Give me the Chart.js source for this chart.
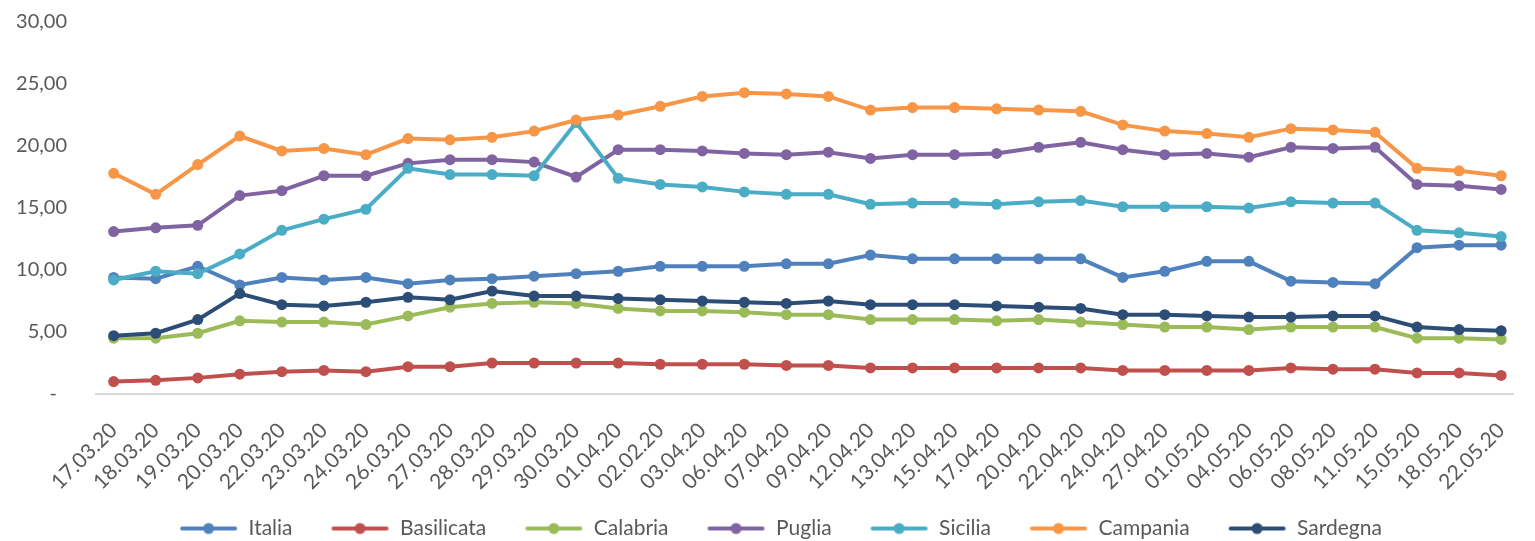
<!DOCTYPE html>
<html>
<head>
<meta charset="utf-8">
<script src="https://cdn.jsdelivr.net/npm/chart.js@4/dist/chart.umd.min.js"></script>
<style>
  html, body { margin: 0; padding: 0; background: #fff; }
  #wrap { width: 1535px; height: 541px; }
</style>
</head>
<body>
<div id="wrap"><canvas id="chart"></canvas></div>
<script>
var dates = ["17.03.20", "18.03.20", "19.03.20", "20.03.20", "22.03.20", "23.03.20", "24.03.20", "26.03.20",
             "27.03.20", "28.03.20", "29.03.20", "30.03.20", "01.04.20", "02.02.20", "03.04.20", "06.04.20",
             "07.04.20", "09.04.20", "12.04.20", "13.04.20", "15.04.20", "17.04.20", "20.04.20", "22.04.20",
             "24.04.20", "27.04.20", "01.05.20", "04.05.20", "06.05.20", "08.05.20", "11.05.20", "15.05.20",
             "18.05.20", "22.05.20"];

var italia     = [9.4, 9.3, 10.3, 8.8, 9.4, 9.2, 9.4, 8.9, 9.2, 9.3, 9.5, 9.7, 9.9, 10.3, 10.3, 10.3, 10.5,
                  10.5, 11.2, 10.9, 10.9, 10.9, 10.9, 10.9, 9.4, 9.9, 10.7, 10.7, 9.1, 9.0, 8.9, 11.8, 12.0, 12.0];
var basilicata = [1.0, 1.1, 1.3, 1.6, 1.8, 1.9, 1.8, 2.2, 2.2, 2.5, 2.5, 2.5, 2.5, 2.4, 2.4, 2.4, 2.3,
                  2.3, 2.1, 2.1, 2.1, 2.1, 2.1, 2.1, 1.9, 1.9, 1.9, 1.9, 2.1, 2.0, 2.0, 1.7, 1.7, 1.5];
var calabria   = [4.5, 4.5, 4.9, 5.9, 5.8, 5.8, 5.6, 6.3, 7.0, 7.3, 7.4, 7.3, 6.9, 6.7, 6.7, 6.6, 6.4,
                  6.4, 6.0, 6.0, 6.0, 5.9, 6.0, 5.8, 5.6, 5.4, 5.4, 5.2, 5.4, 5.4, 5.4, 4.5, 4.5, 4.4];
var puglia     = [13.1, 13.4, 13.6, 16.0, 16.4, 17.6, 17.6, 18.6, 18.9, 18.9, 18.7, 17.5, 19.7, 19.7, 19.6, 19.4, 19.3,
                  19.5, 19.0, 19.3, 19.3, 19.4, 19.9, 20.3, 19.7, 19.3, 19.4, 19.1, 19.9, 19.8, 19.9, 16.9, 16.8, 16.5];
var sicilia    = [9.2, 9.9, 9.7, 11.3, 13.2, 14.1, 14.9, 18.2, 17.7, 17.7, 17.6, 21.9, 17.4, 16.9, 16.7, 16.3, 16.1,
                  16.1, 15.3, 15.4, 15.4, 15.3, 15.5, 15.6, 15.1, 15.1, 15.1, 15.0, 15.5, 15.4, 15.4, 13.2, 13.0, 12.7];
var campania   = [17.8, 16.1, 18.5, 20.8, 19.6, 19.8, 19.3, 20.6, 20.5, 20.7, 21.2, 22.1, 22.5, 23.2, 24.0, 24.3, 24.2,
                  24.0, 22.9, 23.1, 23.1, 23.0, 22.9, 22.8, 21.7, 21.2, 21.0, 20.7, 21.4, 21.3, 21.1, 18.2, 18.0, 17.6];
var sardegna   = [4.7, 4.9, 6.0, 8.1, 7.2, 7.1, 7.4, 7.8, 7.6, 8.3, 7.9, 7.9, 7.7, 7.6, 7.5, 7.4, 7.3,
                  7.5, 7.2, 7.2, 7.2, 7.1, 7.0, 6.9, 6.4, 6.4, 6.3, 6.2, 6.2, 6.3, 6.3, 5.4, 5.2, 5.1];

var seriesNames  = ["Italia", "Basilicata", "Calabria", "Puglia", "Sicilia", "Campania", "Sardegna"];
var seriesValues = [italia, basilicata, calabria, puglia, sicilia, campania, sardegna];
var colors = ["#4f81bd", "#c0504d", "#9bbb59", "#8064a2", "#4bacc6", "#f79646", "#2c4d75"];

var yTicks = [0, 5, 10, 15, 20, 25, 30];

var textColor = "#595959";
var fontFamily = "Lato, 'Open Sans', sans-serif";

// "line with dot" legend icon; blank strip on the left gives the gap between items
function legendIcon(color) {
    var c = document.createElement("canvas");
    c.width = 87; c.height = 14;
    var g = c.getContext("2d");
    g.strokeStyle = color;
    g.lineWidth = 4;
    g.lineCap = "round";
    g.beginPath(); g.moveTo(31, 7); g.lineTo(84, 7); g.stroke();
    g.fillStyle = color;
    g.beginPath(); g.arc(57.5, 7, 5.5, 0, Math.PI * 2); g.fill();
    return c;
}

var datasets = seriesNames.map(function(name, i) {
    return {
        label: name,
        data: seriesValues[i].map(function(v, k) { return {x: k, y: v}; }),
        borderColor: colors[i],
        backgroundColor: colors[i],
        pointBackgroundColor: colors[i],
        pointBorderWidth: 0,
        pointRadius: 5.5,
        pointHoverRadius: 5.5,
        borderWidth: 4,
        tension: 0,
        fill: false,
        order: seriesNames.length - i   // later series drawn on top, like Excel
    };
});

var ctx = document.getElementById("chart");
var myChart = new Chart(ctx, {
    type: "line",
    data: { datasets: datasets },
    options: {
        responsive: true,
        maintainAspectRatio: false,
        animation: false,
        layout: { padding: { top: 22, right: 2, bottom: -8, left: 0 } },
        plugins: {
            tooltip: { enabled: false },
            legend: {
                position: "bottom",
                labels: {
                    usePointStyle: true,
                    pointStyleWidth: 87,
                    boxHeight: 14,
                    padding: 10,
                    color: textColor,
                    font: { family: fontFamily, size: 21 },
                    sort: function(a, b) { return a.datasetIndex - b.datasetIndex; },
                    generateLabels: function(chart) {
                        var items = Chart.defaults.plugins.legend.labels.generateLabels(chart);
                        items.forEach(function(it) {
                            it.pointStyle = legendIcon(colors[it.datasetIndex]);
                        });
                        return items;
                    }
                }
            }
        },
        scales: {
            x: {
                type: "linear",
                min: -0.42,
                max: 33.3,
                afterFit: function(scale) { scale.height = 114; },
                grid: { display: false },
                border: { display: true, color: "#d9d9d9", width: 2 },
                ticks: {
                    stepSize: 1,
                    autoSkip: false,
                    includeBounds: false,
                    maxRotation: 45,
                    minRotation: 45,
                    padding: 16,
                    color: textColor,
                    font: { family: fontFamily, size: 21 },
                    callback: function(v) { return dates[v] !== undefined ? dates[v] : ""; }
                }
            },
            y: {
                min: 0,
                max: 30,
                afterFit: function(scale) {
                    scale.width = 96;
                    scale.paddingTop = 0;
                    scale.paddingBottom = 0;
                },
                afterBuildTicks: function(scale) {
                    scale.ticks = yTicks.map(function(v) { return {value: v}; });
                },
                grid: { display: false },
                border: { display: false },
                ticks: {
                    padding: 21,
                    color: textColor,
                    font: { family: fontFamily, size: 20 },
                    callback: function(v) {
                        if (v === 0) return "-\u2002";
                        return v.toFixed(2).replace(".", ",");
                    }
                }
            }
        }
    }
});
</script>
</body>
</html>
